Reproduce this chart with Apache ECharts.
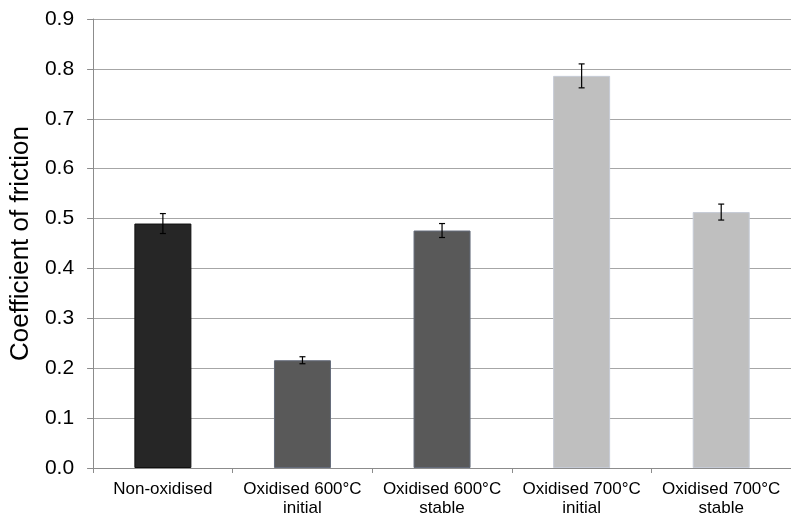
<!DOCTYPE html>
<html>
<head>
<meta charset="utf-8">
<script src="https://cdn.jsdelivr.net/npm/echarts@6/dist/echarts.min.js"></script>
<style>html,body{margin:0;padding:0;background:#fff}#c{width:791px;height:518px}</style>
</head>
<body>
<div id="c"></div>
<script>
var categories = ['Non-oxidised', 'Oxidised 600°C\ninitial', 'Oxidised 600°C\nstable', 'Oxidised 700°C\ninitial', 'Oxidised 700°C\nstable'];
var values = [0.490, 0.216, 0.476, 0.786, 0.513];
var errors = [0.020, 0.007, 0.014, 0.024, 0.016];
var colors = ['#262626', '#595959', '#595959', '#bfbfbf', '#bfbfbf'];
var borders = ['#111111', '#646b7a', '#646b7a', '#c6cbd6', '#c6cbd6'];

var chart = echarts.init(document.getElementById('c'));
var font = 'Liberation Sans, Arial, sans-serif';
chart.setOption({
  animation: false,
  grid: { left: 93, top: 19, width: 700, height: 450 },
  xAxis: {
    type: 'category',
    data: categories,
    axisLine: { lineStyle: { color: '#8c8c8c', width: 1 } },
    axisTick: { show: true, length: 5, lineStyle: { color: '#8c8c8c' } },
    axisLabel: { color: '#000', fontSize: 17, fontFamily: font, margin: 12, lineHeight: 19, interval: 0 }
  },
  yAxis: {
    type: 'value',
    min: 0, max: 0.9, interval: 0.1,
    name: 'Coefficient of friction',
    nameLocation: 'middle',
    nameGap: 58,
    nameTextStyle: { color: '#000', fontSize: 26, fontFamily: font },
    axisLine: { show: true, lineStyle: { color: '#8c8c8c', width: 1 } },
    axisTick: { show: true, length: 6, lineStyle: { color: '#8c8c8c' } },
    axisLabel: { color: '#000', fontSize: 21, fontFamily: font, margin: 19,
      formatter: function (v) { return v.toFixed(1); } },
    splitLine: { show: true, lineStyle: { color: '#a6a6a6', width: 1 } }
  },
  series: [
    {
      type: 'bar',
      barWidth: 57,
      data: values.map(function (v, i) {
        return { value: v, itemStyle: { color: colors[i], borderColor: borders[i], borderWidth: 1 } };
      }),
      z: 2
    },
    {
      type: 'custom',
      data: values.map(function (v, i) { return [i, v - errors[i], v + errors[i]]; }),
      z: 3,
      renderItem: function (params, api) {
        var lo = api.coord([api.value(0), api.value(1)]);
        var hi = api.coord([api.value(0), api.value(2)]);
        var x = lo[0], hw = 3;
        var st = { stroke: '#000', lineWidth: 1.2 };
        return {
          type: 'group',
          children: [
            { type: 'line', shape: { x1: x, y1: lo[1], x2: x, y2: hi[1] }, style: st },
            { type: 'line', shape: { x1: x - hw, y1: lo[1], x2: x + hw, y2: lo[1] }, style: st },
            { type: 'line', shape: { x1: x - hw, y1: hi[1], x2: x + hw, y2: hi[1] }, style: st }
          ]
        };
      }
    }
  ]
});
</script>
</body>
</html>
